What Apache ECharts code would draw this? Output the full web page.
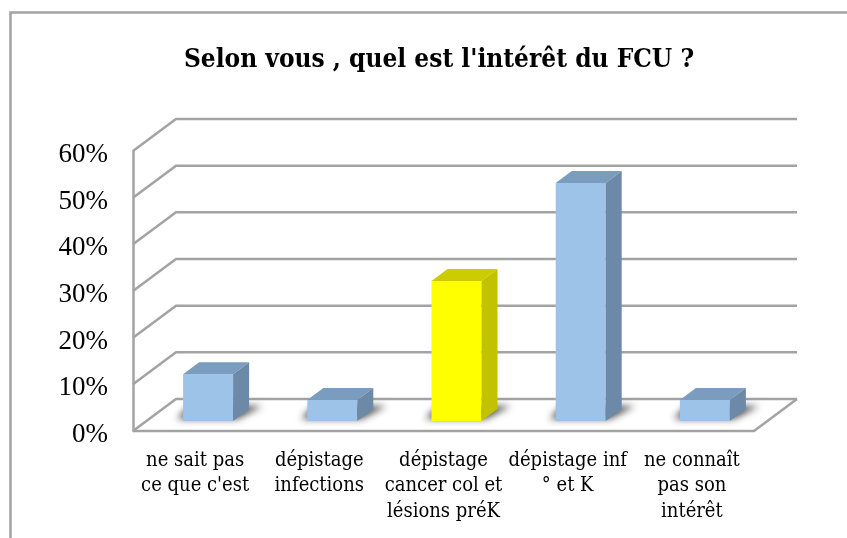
<!DOCTYPE html>
<html><head><meta charset="utf-8">
<style>html,body{margin:0;padding:0;background:#fff}#c{width:847px;height:538px}</style>
<script src="https://cdn.jsdelivr.net/npm/echarts@6/dist/echarts.min.js"></script>
</head><body><div id="c"></div>
<script>
const categories = ["ne sait pas\nce que c'est", "dépistage\ninfections", "dépistage\ncancer col et\nlésions préK", "dépistage inf\n° et K", "ne connaît\npas son\nintérêt"];
const values = [10, 4.5, 30, 51, 4.5];
const highlighted = [false, false, true, false, false];
const ticks = [0, 10, 20, 30, 40, 50, 60];
const titleText = "Selon vous , quel est l'intérêt du FCU ?";

const DX = 43, DY = 32;           // wall depth
const BDX = 16, BDY = 12;         // bar depth
const INX = 13, INY = 10;         // bar inset from front plane
const BW = 50;
const OFF = 3000;                 // draws only the blurred shadow of the floor shape
const LINE = '#a3a3a3';
const COL = {
  blue: {front:'#9dc3e8', top:'#7a9cbf', side:'#6c89a8'},
  yellow: {front:'#ffff00', top:'#cccc00', side:'#c2c200'}
};

function renderWall(params, api) {
  const t = api.value(0);
  const p = api.coord([0, t]);
  const band = api.size([1, 0])[0];
  const x0 = p[0] - band / 2, y = p[1];
  const xEnd = x0 + band * categories.length;
  const children = [];
  const ls = {stroke: LINE, lineWidth: 2.5, fill: null};
  children.push({type:'polyline', shape:{points:[[x0,y],[x0+DX,y-DY],[xEnd+DX,y-DY]]}, style:ls});
  if (t === 0) {
    children.push({type:'polyline', shape:{points:[[x0,y],[xEnd,y],[xEnd+DX,y-DY]]}, style:ls});
  }
  return {type:'group', children};
}
function renderBar(params, api) {
  const i = api.value(0), v = api.value(1);
  const top = api.coord([i, v]), base = api.coord([i, 0]);
  const x0 = top[0] + INX - BW / 2, x1 = x0 + BW;
  const yT = top[1] - INY, yB = base[1] - INY;
  const c = highlighted[i] ? COL.yellow : COL.blue;
  const poly = (pts, fill) => ({type:'polygon', shape:{points:pts}, style:{fill, stroke:null}});
  const sh = [[x0-6,yB-2],[x1+4,yB-2],[x1+BDX+13,yB-BDY-3],[x0+6,yB-BDY-3]].map(q=>[q[0]-OFF,q[1]]);
  return {type:'group', children:[
    {type:'polygon', shape:{points:sh},
     style:{fill:'#000', shadowBlur:7, shadowOffsetX:OFF, shadowColor:'rgba(70,70,70,0.95)'}},
    poly([[x0,yB],[x1,yB],[x1,yT],[x0,yT]], c.front),
    poly([[x0,yT],[x1,yT],[x1+BDX,yT-BDY],[x0+BDX,yT-BDY]], c.top),
    poly([[x1,yB],[x1+BDX,yB-BDY],[x1+BDX,yT-BDY],[x1,yT]], c.side)
  ]};
}

const chart = echarts.init(document.getElementById('c'), null, {renderer:'canvas'});
chart.setOption({
  animation:false,
  backgroundColor:'#fff',
  title:{text:titleText, left:434, top:42, textAlign:'center',
    textStyle:{fontFamily:'DejaVu Serif Condensed, Liberation Serif, serif', fontWeight:'bold', fontSize:26, color:'#000'}},
  grid:{left:133, right:93, top:151, bottom:107},
  xAxis:{type:'category', data:categories, axisLine:{show:false}, axisTick:{show:false},
    axisLabel:{interval:0, margin:17, lineHeight:25.5, fontSize:20, color:'#000', fontFamily:'DejaVu Serif Condensed, serif', verticalAlign:'top'}},
  yAxis:{type:'value', min:0, max:60, interval:10, axisLine:{show:true, lineStyle:{color:LINE, width:2.5}}, axisTick:{show:false}, splitLine:{show:false},
    axisLabel:{margin:25, fontSize:27, color:'#000', fontFamily:'Liberation Serif, serif', formatter:'{value}%', verticalAlign:'top', lineHeight:8}},
  graphic:[{type:'polyline', silent:true, z:-1, shape:{points:[[10.5,538],[10.5,12.5],[847,12.5]]}, style:{stroke:LINE, lineWidth:2.5, fill:null}}],
  series:[
    {type:'custom', data:ticks.map(t=>[t]), encode:{y:0}, renderItem:renderWall, z:1, silent:true, clip:false},
    {type:'custom', data:values.map((v,i)=>[i,v]), encode:{x:0,y:1}, renderItem:renderBar, z:2, silent:true, clip:false}
  ]
});
</script></body></html>
